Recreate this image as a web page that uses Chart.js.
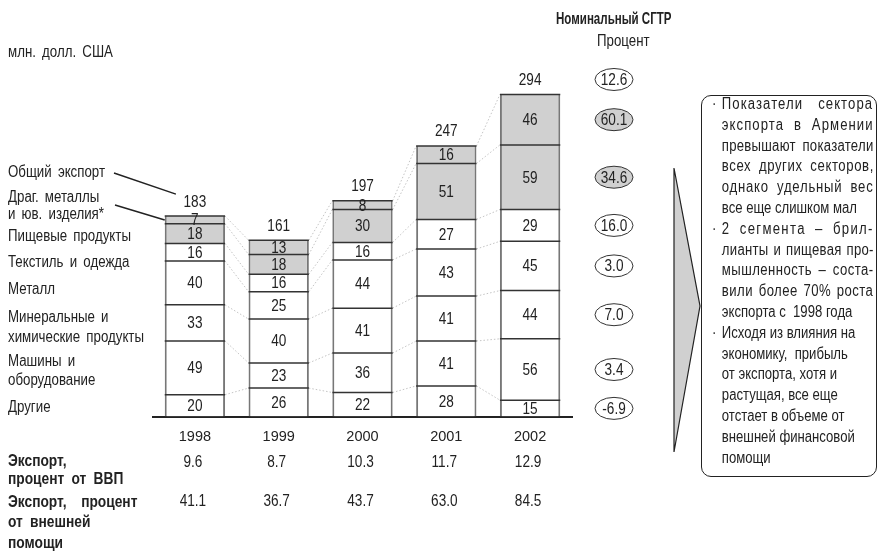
<!DOCTYPE html>
<html>
<head>
<meta charset="utf-8">
<script src="https://cdn.jsdelivr.net/npm/chart.js@4.4.1/dist/chart.umd.min.js"></script>
<style>
  body { margin: 0; background: #fff; }
  #wrap { position: relative; width: 878px; height: 554px; overflow: hidden;
          font-family: 'Liberation Sans', Arial, sans-serif; color: #222; }
  #chart { position: absolute; left: 0; top: 0; }
  .t { position: absolute; white-space: nowrap; font-size: 16px; line-height: 18px; word-spacing: 3px;
       transform: scaleX(0.83); transform-origin: 0 0; }
  .b { font-weight: bold; transform: scaleX(0.86); word-spacing: 4px; }
  #head { font-size: 16.5px; transform: scaleX(0.7); word-spacing: 0; }
  #box { position: absolute; left: 701px; top: 95px; width: 176px; height: 382px;
         border: 1.5px solid #222; border-radius: 10px; box-sizing: border-box; }
  #boxtext { position: absolute; left: 712px; top: 94px; width: 198px; font-size: 16px; line-height: 20.8px;
             transform: scaleX(0.82); transform-origin: 0 0; }
  #boxtext .in { padding-left: 12px; white-space: nowrap; }
  #boxtext .bul { position: absolute; left: 0; }
  svg { position: absolute; left: 0; top: 0; }
</style>
</head>
<body>
<div id="wrap">
  <canvas id="chart" width="878" height="554"></canvas>
  <svg width="878" height="554">
    <polygon points="674,168 700,306 674,452" fill="#d0d0d0" stroke="#222" stroke-width="1.2"/>
  </svg>
  <div id="box"></div>
  <div id="boxtext"></div>

  <div class="t" style="left:8px;top:43px">млн. долл. США</div>
  <div class="t b" id="head" style="left:556px;top:9px">Номинальный СГТР</div>
  <div class="t" style="left:597px;top:32px">Процент</div>

  <div class="t" style="left:8px;top:163px">Общий экспорт</div>
  <div class="t" style="left:8px;top:188px">Драг. металлы</div>
  <div class="t" style="left:8px;top:205px">и юв. изделия*</div>
  <div class="t" style="left:8px;top:227px">Пищевые продукты</div>
  <div class="t" style="left:8px;top:253px">Текстиль и одежда</div>
  <div class="t" style="left:8px;top:280px">Металл</div>
  <div class="t" style="left:8px;top:308px">Минеральные и</div>
  <div class="t" style="left:8px;top:328px">химические продукты</div>
  <div class="t" style="left:8px;top:352px">Машины и</div>
  <div class="t" style="left:8px;top:371px">оборудование</div>
  <div class="t" style="left:8px;top:398px">Другие</div>

  <div class="t b" style="left:8px;top:452px">Экспорт,</div>
  <div class="t b" style="left:8px;top:470px">процент от ВВП</div>
  <div class="t b" style="left:8px;top:493px">Экспорт,&nbsp; процент</div>
  <div class="t b" style="left:8px;top:513px">от внешней</div>
  <div class="t b" style="left:8px;top:534px">помощи</div>
</div>

<script>
// Экспорт Армении, млн. долл. США
const years = ['1998', '1999', '2000', '2001', '2002'];
const other = [20, 26, 22, 28, 15];
const machines = [49, 23, 36, 41, 56];
const minerals = [33, 40, 41, 41, 44];
const metal = [40, 25, 44, 43, 45];
const textile = [16, 16, 16, 27, 29];
const food = [18, 18, 30, 51, 59];
const jewelry = [7, 13, 8, 16, 46];
const totals = [183, 161, 197, 247, 294];

// номинальный СГТР, % (снизу вверх, как сегменты), и по общему экспорту
const cagr = [-6.9, 3.4, 7.0, 3.0, 16.0, 34.6, 60.1];
const cagrTotal = 12.6;

const exportGdp = [9.6, 8.7, 10.3, 11.7, 12.9];
const exportAid = [41.1, 36.7, 43.7, 63.0, 84.5];

// [выровнять по ширине, маркер, текст]
const notes = [
  [true, true, 'Показатели сектора'],
  [true, false, 'экспорта в Армении'],
  [true, false, 'превышают показатели'],
  [true, false, 'всех других секторов,'],
  [true, false, 'однако удельный вес'],
  [false, false, 'все еще слишком мал'],
  [true, true, '2 сегмента – брил-'],
  [true, false, 'лианты и пищевая про-'],
  [true, false, 'мышленность – соста-'],
  [true, false, 'вили более 70% роста'],
  [false, false, 'экспорта с\u00a0 1998 года'],
  [false, true, 'Исходя из влияния на'],
  [false, false, 'экономику,\u00a0 прибыль'],
  [false, false, 'от экспорта, хотя и'],
  [false, false, 'растущая, все еще'],
  [false, false, 'отстает в объеме от'],
  [false, false, 'внешней финансовой'],
  [false, false, 'помощи']
];
const bt = document.getElementById('boxtext');
notes.forEach(([just, bullet, txt]) => {
  const d = document.createElement('div');
  d.style.position = 'relative';
  if (bullet) {
    const b = document.createElement('span');
    b.className = 'bul';
    b.textContent = '·';
    d.appendChild(b);
  }
  const line = document.createElement('div');
  line.className = 'in';
  const s = document.createElement('span');
  s.textContent = txt;
  line.appendChild(s);
  d.appendChild(line);
  bt.appendChild(d);
  if (just) {
    const extra = 185 - s.offsetWidth;
    const spaces = (txt.match(/ /g) || []).length;
    if (extra > 0) {
      s.style.letterSpacing = (extra * 0.65 / txt.length) + 'px';
      if (spaces) s.style.wordSpacing = (extra * 0.35 / spaces) + 'px';
    }
  }
});

const FONT = "'Liberation Sans', Arial, sans-serif";
const GRAY = '#d0d0d0';

// узкий текст на холсте
function narrow(ctx, s, x, y, sx = 0.85) {
  ctx.save();
  ctx.translate(x, y);
  ctx.scale(sx, 1);
  ctx.fillText(s, 0, 0);
  ctx.restore();
}

const annotate = {
  id: 'annotate',
  afterDatasetsDraw(chart) {
    const ctx = chart.ctx;
    const n = chart.data.datasets.length;
    ctx.save();

    // пунктирные соединители между столбцами
    ctx.strokeStyle = '#aaa';
    ctx.lineWidth = 0.7;
    ctx.setLineDash([1.5, 2]);
    for (let d = 0; d < n; d++) {
      const els = chart.getDatasetMeta(d).data;
      for (let i = 0; i < els.length - 1; i++) {
        const a = els[i], b = els[i + 1];
        ctx.beginPath();
        ctx.moveTo(a.x + a.width / 2, a.y);
        ctx.lineTo(b.x - b.width / 2, b.y);
        ctx.stroke();
      }
    }
    ctx.setLineDash([]);

    // тёмные горизонтальные границы сегментов
    ctx.strokeStyle = '#333';
    ctx.lineWidth = 1.5;
    for (let d = 0; d < n; d++) {
      chart.getDatasetMeta(d).data.forEach(el => {
        ctx.beginPath();
        ctx.moveTo(el.x - el.width / 2, el.y);
        ctx.lineTo(el.x + el.width / 2, el.y);
        ctx.stroke();
      });
    }

    ctx.fillStyle = '#222';
    ctx.font = '16px ' + FONT;
    ctx.textAlign = 'center';
    ctx.textBaseline = 'middle';

    // значения сегментов
    chart.data.datasets.forEach((ds, d) => {
      chart.getDatasetMeta(d).data.forEach((el, i) => {
        narrow(ctx, String(ds.data[i]), el.x, (el.y + el.base) / 2 + 1);
      });
    });

    // итоги над столбцами
    const top = chart.getDatasetMeta(n - 1).data;
    totals.forEach((v, i) => narrow(ctx, String(v), top[i].x, top[i].y - 14));

    // выноски слева
    ctx.strokeStyle = '#222';
    ctx.lineWidth = 1.5;
    const b0 = top[0];
    ctx.beginPath();
    ctx.moveTo(114, 173);
    ctx.lineTo(b0.x - 19, b0.y - 22);
    ctx.moveTo(115, 205);
    ctx.lineTo(b0.x - b0.width / 2, (b0.y + b0.base) / 2);
    ctx.stroke();

    // эллипсы СГТР у последнего столбца
    const cx = chart.chartArea.right + 42;
    const ellipse = (y, txt, fill) => {
      ctx.beginPath();
      ctx.ellipse(cx, y, 19, 11, 0, 0, Math.PI * 2);
      ctx.fillStyle = fill;
      ctx.fill();
      ctx.lineWidth = 1;
      ctx.strokeStyle = '#333';
      ctx.stroke();
      ctx.fillStyle = '#222';
      narrow(ctx, txt, cx, y + 1);
    };
    const last = top.length - 1;
    ellipse(top[last].y - 15, cagrTotal.toFixed(1), '#fff');
    cagr.forEach((v, d) => {
      const el = chart.getDatasetMeta(d).data[last];
      ellipse((el.y + el.base) / 2, v.toFixed(1), d >= 5 ? GRAY : '#fff');
    });

    // строки таблицы под осью
    const base = chart.scales.y.getPixelForValue(0);
    top.forEach((el, i) => {
      narrow(ctx, exportGdp[i].toFixed(1), el.x - 2, base + 46);
      narrow(ctx, exportAid[i].toFixed(1), el.x - 2, base + 85);
    });
    ctx.restore();
  }
};

const seg = (label, data, gray) => ({
  label, data,
  backgroundColor: gray ? GRAY : '#fff',
  borderColor: '#777',
  borderWidth: { left: 2, right: 2, top: 0, bottom: 0 },
  borderSkipped: false,
  inflateAmount: 0
});

new Chart(document.getElementById('chart'), {
  type: 'bar',
  data: {
    labels: years,
    datasets: [
      seg('Другие', other),
      seg('Машины и оборудование', machines),
      seg('Минеральные и химические продукты', minerals),
      seg('Металл', metal),
      seg('Текстиль и одежда', textile),
      seg('Пищевые продукты', food, true),
      seg('Драг. металлы и юв. изделия', jewelry, true)
    ]
  },
  options: {
    responsive: false,
    animation: false,
    layout: { padding: { left: 153, right: 306, top: 66, bottom: 96 } },
    datasets: { bar: { barPercentage: 0.72, categoryPercentage: 1 } },
    plugins: { legend: { display: false }, tooltip: { enabled: false } },
    scales: {
      x: {
        stacked: true,
        grid: { display: false, drawTicks: false },
        border: { color: '#222', width: 2 },
        ticks: { color: '#222', padding: 12, font: { family: FONT, size: 14.5 } }
      },
      y: { stacked: true, display: false, min: 0, max: 320 }
    }
  },
  plugins: [annotate]
});
</script>
</body>
</html>
